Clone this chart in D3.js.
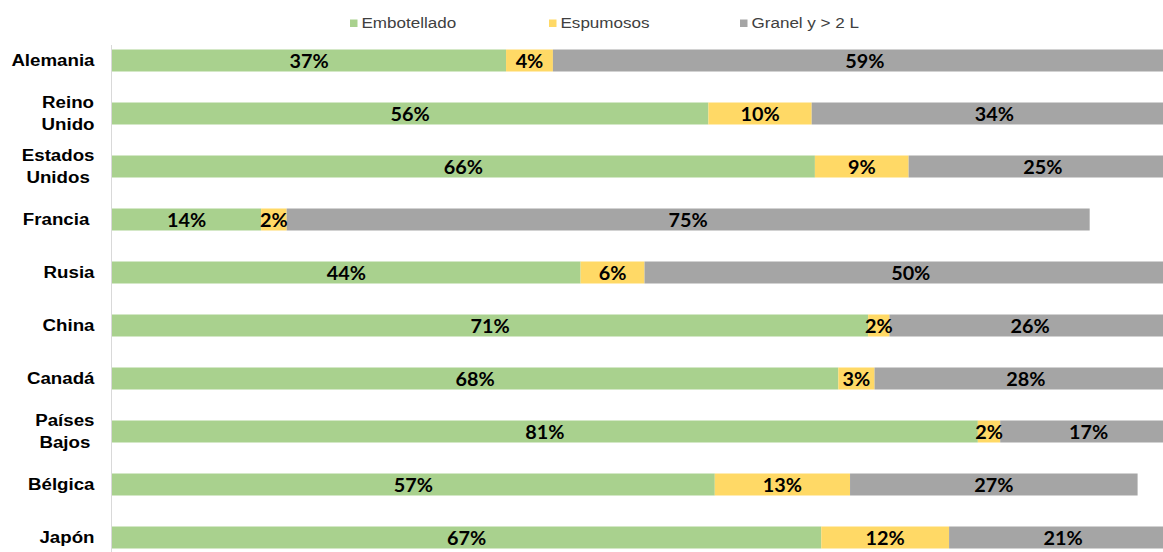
<!DOCTYPE html>
<html><head><meta charset="utf-8">
<script src="https://cdn.jsdelivr.net/npm/d3@7"></script>
<style>html,body{margin:0;padding:0;background:#fff;overflow:hidden}</style>
</head><body>
<svg id="chart" width="1163" height="552"></svg>
<script>
const categories = ["Alemania","Reino\nUnido","Estados\nUnidos","Francia ","Rusia","China","Canadá","Países\nBajos","Bélgica","Japón"];
const seriesNames = ["Embotellado","Espumosos","Granel y > 2 L"];
const embotellado = [37.0, 56.0, 66.0, 14.0, 44.0, 71.0, 68.2, 81.3, 56.6, 66.6];
const espumosos   = [4.4, 9.7, 8.8, 2.4, 6.0, 2.0, 3.4, 2.1, 12.7, 12.0];
const granel      = [58.6, 34.3, 25.2, 75.4, 50.0, 26.4, 28.4, 16.6, 27.0, 21.4];
const colors = ["#a9d18e","#ffd966","#a5a5a5"];

const SX = 1.1; // horizontal stretch of the original picture's text

const rows = categories.map((c,i)=>({cat:c, Embotellado:embotellado[i], Espumosos:espumosos[i], "Granel y > 2 L":granel[i]}));
const stack = d3.stack().keys(seriesNames)(rows);

const svg = d3.select("#chart");
const x = d3.scaleLinear().domain([0,100]).range([112,1177]);
const y = d3.scaleBand().domain(categories).range([34,564]).paddingInner(0.585).paddingOuter(0.2925);

svg.append("line").attr("x1",111.5).attr("x2",111.5).attr("y1",45).attr("y2",552)
  .attr("stroke","#d9d9d9").attr("stroke-width",1);

const g = svg.append("g");
stack.forEach((s,si)=>{
  g.append("g").attr("fill",colors[si]).selectAll("rect").data(s).join("rect")
    .attr("x",d=>x(d[0])).attr("width",d=>x(d[1])-x(d[0]))
    .attr("y",d=>y(d.data.cat)).attr("height",y.bandwidth());
});
stack.forEach((s,si)=>{
  g.append("g").selectAll("text").data(s).join("text")
    .attr("transform",d=>`translate(${(x(d[0])+x(d[1]))/2},${y(d.data.cat)+y.bandwidth()/2+1}) scale(${SX},1)`)
    .attr("dy","0.36em")
    .attr("text-anchor","middle")
    .attr("font-family","Lato, 'Open Sans', sans-serif")
    .attr("font-weight","bold").attr("font-size",18).attr("fill","#000")
    .text(d=>Math.round(d[1]-d[0])+"%");
});

// category labels
const labelRight = 94.5;
categories.forEach(c=>{
  const lines = c.split("\n");
  const cy = y(c)+y.bandwidth()/2;
  const gg = svg.append("g");
  const t = gg.append("text")
    .attr("font-family","'Liberation Sans', Arial, sans-serif")
    .attr("font-weight","bold").attr("font-size",17).attr("fill","#000")
    .attr("text-anchor","middle").style("white-space","pre");
  const lh = 22;
  const tsp = lines.map(l=>t.append("tspan").text(l));
  const w = d3.max(tsp,s=>s.node().getComputedTextLength())*SX;
  const cx = labelRight - w/2;
  gg.attr("transform",`translate(${cx},${cy}) scale(${SX},1)`);
  tsp.forEach((s,i)=>s.attr("x",0).attr("y",(i-(lines.length-1)/2)*lh).attr("dy","0.35em"));
});

// legend
const legendX = [350, 549, 740];
seriesNames.forEach((n,i)=>{
  svg.append("rect").attr("x",legendX[i]).attr("y",19.5).attr("width",7.5).attr("height",7.5).attr("fill",colors[i]);
  svg.append("text").attr("transform",`translate(${legendX[i]+11.5},23) scale(${SX},1)`).attr("dy","0.35em")
    .attr("font-family","'Liberation Sans', Arial, sans-serif").attr("font-size",15.5).attr("fill","#404040")
    .text(n);
});
</script>
</body></html>
